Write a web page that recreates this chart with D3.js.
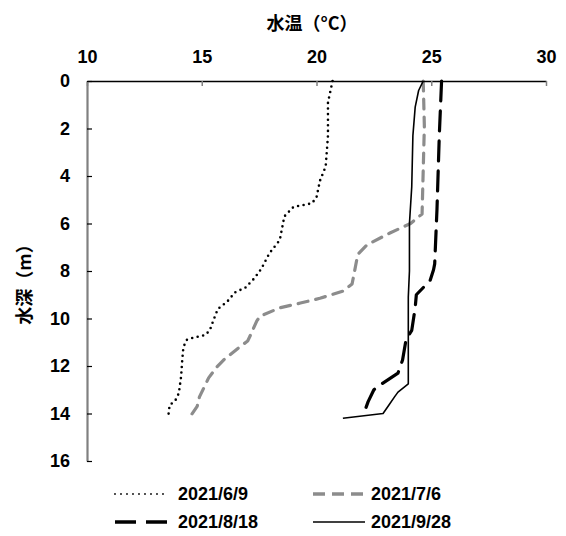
<!DOCTYPE html>
<html>
<head>
<meta charset="utf-8">
<script src="https://cdn.jsdelivr.net/npm/d3@7"></script>
<style>
  body { margin: 0; background: #fff; }
  svg { display: block; }
  .tick text, .lbl { font-family: "Liberation Sans", Arial, sans-serif; font-weight: bold; font-size: 18px; fill: #000; }
  .ttl { font-family: "Noto Sans CJK JP", "Noto Sans CJK SC", sans-serif; font-weight: bold; font-size: 18px; fill: #000; }
</style>
</head>
<body>
<div id="vis"></div>
<script>
const WIDTH = 566, HEIGHT = 536;
const margins = { top: 81, left: 87, right: 20, bottom: 75 };

// 観測日
const dates = ["2021/6/9", "2021/7/6", "2021/8/18", "2021/9/28"];

// 水深 (m) と 水温 (°C)
const depth0609 = [0, 0.9, 2.3, 3.6, 4.2, 4.9, 5.15, 5.3, 5.7, 6.7, 7.25, 7.9, 8.3, 8.7, 8.9, 9.3, 9.6, 10.1, 10.5, 10.7, 10.8, 10.9, 11.2, 11.75, 12.45, 13.15, 13.45, 13.65, 14.05];
const temp0609  = [20.7, 20.5, 20.5, 20.4, 20.15, 20.0, 19.8, 19.0, 18.6, 18.4, 17.95, 17.6, 17.3, 16.9, 16.45, 16.1, 15.7, 15.5, 15.35, 15.15, 14.65, 14.35, 14.2, 14.15, 14.1, 14.0, 13.85, 13.6, 13.55];

const depth0706 = [0, 1.9, 5.6, 6.0, 6.4, 6.9, 7.3, 7.8, 8.3, 8.55, 8.85, 9.15, 9.35, 9.55, 9.9, 10.1, 10.75, 10.95, 11.2, 11.75, 12.05, 12.5, 12.8, 13.3, 13.7, 14.05, 14.25];
const temp0706  = [24.65, 24.7, 24.6, 24.1, 23.2, 22.2, 21.8, 21.7, 21.6, 21.55, 21.15, 20.15, 19.3, 18.4, 17.55, 17.4, 17.1, 17.0, 16.65, 15.95, 15.65, 15.3, 15.15, 14.9, 14.8, 14.55, 14.55];

const depth0818 = [0, 2.3, 5.4, 7.7, 7.95, 8.4, 9.0, 9.55, 10.5, 10.9, 11.75, 12.3, 12.75, 13.0, 13.5, 13.9];
const temp0818  = [25.45, 25.35, 25.25, 25.15, 25.1, 24.95, 24.35, 24.3, 24.15, 23.9, 23.75, 23.55, 22.85, 22.5, 22.25, 22.1];

const depth0928 = [0, 0.4, 1.1, 2.3, 4.45, 6.0, 8.0, 9.1, 9.35, 12.75, 13.1, 13.3, 13.65, 14.0, 14.2];
const temp0928  = [24.65, 24.45, 24.3, 24.2, 24.15, 24.05, 24.05, 24.0, 24.0, 24.0, 23.55, 23.4, 23.15, 22.9, 21.15];

const xTicks = [10, 15, 20, 25, 30];
const yTicks = [0, 2, 4, 6, 8, 10, 12, 14, 16];

const series = [
  { name: dates[0], depth: depth0609, temp: temp0609, color: "#000", width: 2.6, dash: "0,5.6", cap: "round", legDash: "0,6", legWidth: 1.8 },
  { name: dates[1], depth: depth0706, temp: temp0706, color: "#8c8c8c", width: 3.2, dash: "10,8", cap: "round", legDash: "12,7", legWidth: 3.5 },
  { name: dates[2], depth: depth0818, temp: temp0818, color: "#000", width: 3.2, dash: "20,10", cap: "round", legDash: "21,10", legWidth: 3.5 },
  { name: dates[3], depth: depth0928, temp: temp0928, color: "#000", width: 1.6, dash: null, cap: "butt", legDash: null, legWidth: 1.6 }
];

const svg = d3.select("#vis").append("svg").attr("width", WIDTH).attr("height", HEIGHT);

const x = d3.scaleLinear().domain([10, 30]).range([margins.left, 546]);
const y = d3.scaleLinear().domain([0, 16]).range([margins.top, 461]);

// 線
const line = d3.line().x(d => x(d[1])).y(d => y(d[0]));
series.forEach(s => {
  const pts = s.depth.map((d, i) => [d, s.temp[i]]);
  svg.append("path")
    .attr("d", line(pts))
    .attr("fill", "none")
    .attr("stroke", s.color)
    .attr("stroke-width", s.width)
    .attr("stroke-linecap", s.cap)
    .attr("stroke-linejoin", "round")
    .attr("stroke-dasharray", s.dash);
});

// 上の軸 (水温)
const ejeX = svg.append("g")
  .attr("transform", `translate(0,${margins.top})`)
  .call(d3.axisTop(x).tickValues(xTicks).tickSizeInner(-5).tickSizeOuter(0).tickPadding(18));
ejeX.select(".domain").attr("stroke", "#000").attr("stroke-width", 1.6);
ejeX.selectAll(".tick line").attr("stroke", "#808080").attr("stroke-width", 1.5);
ejeX.selectAll(".tick text").attr("class", "lbl");

// 左の軸 (水深)
const ejeY = svg.append("g")
  .attr("transform", `translate(${margins.left},0)`)
  .call(d3.axisLeft(y).tickValues(yTicks).tickSizeInner(-5).tickSizeOuter(0).tickPadding(17));
ejeY.select(".domain").attr("stroke", "#808080").attr("stroke-width", 2.2);
ejeY.selectAll(".tick line").attr("stroke", "#000").attr("stroke-width", 1.2);
ejeY.selectAll(".tick text").attr("class", "lbl");

// タイトル
svg.append("text").attr("class", "ttl")
  .attr("x", 312).attr("y", 30)
  .attr("text-anchor", "middle")
  .text("水温（°C）");

svg.append("text").attr("class", "ttl")
  .attr("transform", `translate(31,280) rotate(-90)`)
  .attr("text-anchor", "middle")
  .text("水深（m）");

// 凡例
const legendPos = [[115, 494, 63], [313, 494, 58], [115, 522, 63], [313, 522, 58]];
series.forEach((s, i) => {
  const [lx, ly, off] = legendPos[i];
  const sw = i === 2 ? 56 : 52;
  svg.append("line")
    .attr("x1", lx).attr("x2", lx + sw)
    .attr("y1", ly).attr("y2", ly)
    .attr("stroke", s.color)
    .attr("stroke-width", s.legWidth)
    .attr("stroke-linecap", i === 0 ? "round" : "butt")
    .attr("stroke-dasharray", s.legDash);
  svg.append("text").attr("class", "lbl")
    .attr("x", lx + off).attr("y", ly + 6)
    .text(s.name);
});
</script>
</body>
</html>
